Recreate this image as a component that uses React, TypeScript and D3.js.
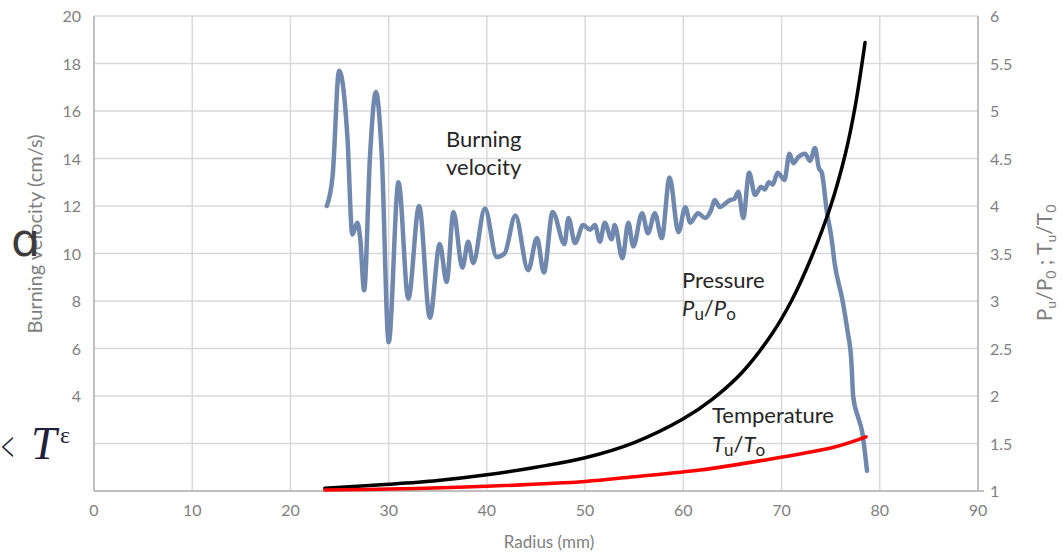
import * as d3 from "d3";

// Burning velocity (cm/s) vs radius (mm)
const velRadius = [23.7, 24.3, 24.95, 25.8, 26.3, 26.8, 27.1, 27.5, 28.1, 28.7, 29.3, 30.0, 31.0, 32.0, 33.1, 34.2, 35.2, 35.9, 36.6, 37.5, 38.1, 38.6, 39.8, 41.0, 41.8, 42.9, 44.2, 45.1, 45.8, 46.7, 47.9, 48.3, 48.97, 49.8, 50.5, 51.0, 51.5, 52.0, 52.7, 53.0, 53.8, 54.4, 54.9, 55.8, 56.4, 57.1, 57.8, 58.6, 59.5, 60.2, 60.7, 61.5, 62.2, 62.8, 63.2, 63.7, 64.75, 65.2, 65.6, 66.1, 66.7, 67.3, 67.9, 68.3, 68.7, 69.1, 69.6, 70.3, 70.8, 71.2, 71.7, 72.4, 72.9, 73.4, 73.8, 74.1, 74.6, 75.1, 75.4, 76.2, 76.7, 77.1, 77.3, 77.8, 78.2, 78.7];
const velValue = [12.0, 13.3, 17.7, 14.9, 10.8, 11.3, 10.65, 8.45, 14.1, 16.8, 14.1, 6.27, 13.0, 8.1, 12.0, 7.3, 10.4, 8.8, 11.75, 9.4, 10.5, 9.6, 11.9, 9.85, 10.0, 11.6, 9.3, 10.65, 9.2, 11.75, 10.4, 11.5, 10.44, 11.2, 11.0, 11.2, 10.5, 11.3, 10.6, 11.2, 9.8, 11.3, 10.3, 11.7, 10.85, 11.7, 10.65, 13.2, 10.9, 11.95, 11.3, 11.7, 11.5, 11.8, 12.25, 11.96, 12.25, 12.3, 12.6, 11.5, 13.4, 12.46, 12.8, 12.7, 13.0, 12.9, 13.4, 13.1, 14.2, 13.8, 14.06, 14.2, 13.9, 14.44, 13.6, 13.4, 11.8, 10.6, 9.6, 8.04, 6.78, 5.5, 3.96, 3.1, 2.5, 0.85];

// Pressure ratio Pu/Po (right axis)
const presRadius = [23.5, 30, 35, 40, 45, 50, 55, 60, 63, 66, 69, 71, 73, 75, 76.5, 77.5, 78.5];
const presValue = [1.03, 1.07, 1.11, 1.17, 1.25, 1.35, 1.51, 1.76, 1.97, 2.25, 2.65, 3.0, 3.45, 4.0, 4.55, 5.05, 5.72];

// Temperature ratio Tu/To (right axis)
const tempRadius = [23.5, 30, 40, 50, 55, 61.7, 68.5, 75.3, 78.6];
const tempValue = [1.01, 1.02, 1.05, 1.1, 1.15, 1.22, 1.33, 1.46, 1.57];

const xTicks = [0, 10, 20, 30, 40, 50, 60, 70, 80, 90];
const leftGrid = [0, 2, 4, 6, 8, 10, 12, 14, 16, 18, 20];
const leftTickLabels = [4, 6, 8, 10, 12, 14, 16, 18, 20];
const rightTicks = [1, 1.5, 2, 2.5, 3, 3.5, 4, 4.5, 5, 5.5, 6];

const W = 1063;
const H = 553;
const FONT = "Lato, 'Open Sans', sans-serif";
const TICK_COLOR = "#7f7f7f";
const MATH_FONT = "'Liberation Serif', 'DejaVu Serif', serif";

export default function App() {
  const x = d3.scaleLinear().domain([0, 90]).range([94, 978]);
  const yL = d3.scaleLinear().domain([0, 20]).range([491, 16]);
  const yR = d3.scaleLinear().domain([1, 6]).range([491, 16]);

  const velLine = d3
    .line<number>()
    .x((_, i) => x(velRadius[i]))
    .y((d) => yL(d))
    .curve(d3.curveMonotoneX);
  const presLine = d3
    .line<number>()
    .x((_, i) => x(presRadius[i]))
    .y((d) => yR(d))
    .curve(d3.curveCatmullRom);
  const tempLine = d3
    .line<number>()
    .x((_, i) => x(tempRadius[i]))
    .y((d) => yR(d))
    .curve(d3.curveCatmullRom);

  return (
    <svg
      width={W}
      height={H}
      style={{ position: "absolute", left: 0, top: 0, background: "#fff" }}
      fontFamily={FONT}
    >
      {/* grid */}
      {leftGrid.map((v) => (
        <line key={"h" + v} x1={x(0)} x2={x(90)} y1={yL(v)} y2={yL(v)} stroke="#d9d9d9" strokeWidth={1.5} />
      ))}
      {xTicks.map((v) => (
        <line key={"v" + v} x1={x(v)} x2={x(v)} y1={yL(0)} y2={yL(20)} stroke="#d9d9d9" strokeWidth={1.5} />
      ))}

      {/* axis lines */}
      <line x1={x(0)} x2={x(0)} y1={yL(0)} y2={yL(20)} stroke="#bfbfbf" strokeWidth={2} />
      <line x1={x(90)} x2={x(90)} y1={yL(0)} y2={yL(20)} stroke="#bfbfbf" strokeWidth={2} />
      <line x1={x(0)} x2={x(90) + 6} y1={yL(0)} y2={yL(0)} stroke="#bfbfbf" strokeWidth={2} />

      {/* tick labels */}
      {leftTickLabels.map((v) => (
        <text key={"l" + v} x={81} y={yL(v) + 6} textAnchor="end" fontSize={16} fill={TICK_COLOR}>
          {v}
        </text>
      ))}
      {rightTicks.map((v) => (
        <text key={"r" + v} x={990} y={yR(v) + 6} textAnchor="start" fontSize={16} fill={TICK_COLOR}>
          {v}
        </text>
      ))}
      {xTicks.map((v) => (
        <text key={"x" + v} x={x(v)} y={516} textAnchor="middle" fontSize={16} fill={TICK_COLOR}>
          {v}
        </text>
      ))}

      {/* axis titles */}
      <text x={549} y={548} textAnchor="middle" fontSize={17} fill={TICK_COLOR}>
        Radius (mm)
      </text>
      <text transform="translate(42,234) rotate(-90)" textAnchor="middle" fontSize={20} fill={TICK_COLOR}>
        Burning velocity (cm/s)
      </text>
      <text transform="translate(1052,263) rotate(-90)" textAnchor="middle" fontSize={21} fill={TICK_COLOR}>
        P<tspan fontSize={14} dy={4}>u</tspan>
        <tspan dy={-4}>/P</tspan>
        <tspan fontSize={14} dy={4}>0</tspan>
        <tspan dy={-4}> ; T</tspan>
        <tspan fontSize={14} dy={4}>u</tspan>
        <tspan dy={-4}>/T</tspan>
        <tspan fontSize={14} dy={4}>0</tspan>
      </text>

      {/* series */}
      <path d={velLine(velValue) ?? ""} fill="none" stroke="#7088ae" strokeWidth={4.5} strokeLinejoin="round" strokeLinecap="round" />
      <path d={presLine(presValue) ?? ""} fill="none" stroke="#000" strokeWidth={3.5} strokeLinecap="round" />
      <path d={tempLine(tempValue) ?? ""} fill="none" stroke="#ff0000" strokeWidth={3.5} strokeLinecap="round" />

      {/* annotations */}
      <g fontSize={22} fill="#262626">
        <text x={446} y={147}>Burning</text>
        <text x={446} y={175}>velocity</text>
        <text x={682} y={288}>Pressure</text>
        <text x={682} y={316}>
          <tspan fontStyle="italic">P</tspan>
          <tspan fontSize={17} dy={4}>u</tspan>
          <tspan dy={-4}>/</tspan>
          <tspan fontStyle="italic">P</tspan>
          <tspan fontSize={17} dy={4}>o</tspan>
        </text>
        <text x={712} y={423}>Temperature</text>
        <text x={712} y={452}>
          <tspan fontStyle="italic">T</tspan>
          <tspan fontSize={17} dy={4}>u</tspan>
          <tspan dy={-4}>/</tspan>
          <tspan fontStyle="italic">T</tspan>
          <tspan fontSize={17} dy={4}>o</tspan>
        </text>
      </g>

      {/* stray overlay glyphs from the source page */}
      <text x={11} y={256} fontSize={46} fill="#3c3c3c" fontFamily="'DejaVu Sans', sans-serif">
        ɑ
      </text>
      <text transform="translate(1,461) scale(0.55,1)" fontSize={42} fill="#1f1f3a" fontFamily={MATH_FONT}>
        &lt;
      </text>
      <text x={31} y={459} fontSize={46} fill="#1f1f3a" fontStyle="italic" fontFamily={MATH_FONT}>
        T
      </text>
      <text x={60} y={443} fontSize={24} fill="#1f1f3a" fontFamily={MATH_FONT}>
        ε
      </text>
    </svg>
  );
}
